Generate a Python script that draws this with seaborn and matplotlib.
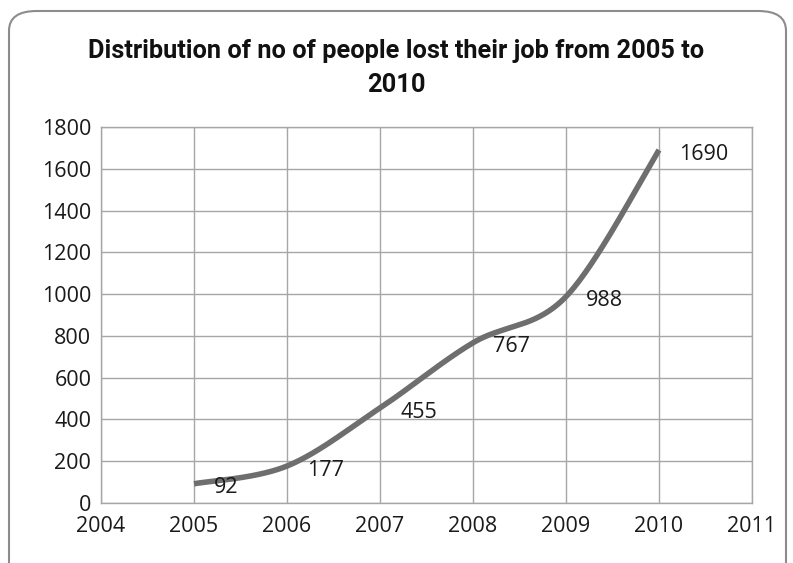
import numpy as np
import pandas as pd
import seaborn as sns
import matplotlib.pyplot as plt
from matplotlib.patches import FancyBboxPatch

# ---- data ----
years = [2005, 2006, 2007, 2008, 2009, 2010]
jobs_lost = [92, 177, 455, 767, 988, 1690]
x_ticks = [2004, 2005, 2006, 2007, 2008, 2009, 2010, 2011]
y_ticks = [0, 200, 400, 600, 800, 1000, 1200, 1400, 1600, 1800]
title = "Distribution of no of people lost their job from 2005 to\n2010"


def smooth_curve(xs, ys, n=60):
    """Excel-style smoothed line (cubic Bezier / Catmull-Rom through the points)."""
    P = np.column_stack([xs, ys]).astype(float)
    E = np.vstack([P[0], P, P[-1]])
    pts = []
    for i in range(len(P) - 1):
        p0, p1, p2, p3 = E[i], E[i + 1], E[i + 2], E[i + 3]
        c1 = p1 + (p2 - p0) / 6.0
        c2 = p2 - (p3 - p1) / 6.0
        t = np.linspace(0, 1, n, endpoint=(i == len(P) - 2))[:, None]
        b = ((1 - t) ** 3) * p1 + 3 * ((1 - t) ** 2) * t * c1 + 3 * (1 - t) * t ** 2 * c2 + t ** 3 * p2
        pts.append(b)
    pts = np.vstack(pts)
    return pd.DataFrame({"year": pts[:, 0], "value": pts[:, 1]})


sns.set_style("white")
plt.rcParams["font.family"] = ["Open Sans", "DejaVu Sans"]

fig = plt.figure(figsize=(7.93, 5.63), dpi=100)
ax = fig.add_axes([101 / 793, 1 - 503 / 563, (752 - 101) / 793, (503 - 127) / 563])

curve = smooth_curve(years, jobs_lost)
sns.lineplot(data=curve, x="year", y="value", sort=False, estimator=None,
             color="#6e6e6e", linewidth=4, ax=ax, solid_capstyle="butt")

ax.set_xlim(x_ticks[0], x_ticks[-1])
ax.set_ylim(y_ticks[0], y_ticks[-1])
ax.set_xticks(x_ticks)
ax.set_yticks(y_ticks)
ax.set_xticklabels([str(v) for v in x_ticks])
ax.set_yticklabels([str(v) for v in y_ticks])
ax.set_xlabel("")
ax.set_ylabel("")
ax.grid(True, color="#a6a6a6", linewidth=1)
ax.set_axisbelow(True)
for s in ax.spines.values():
    s.set_color("#a6a6a6")
    s.set_linewidth(1)
ax.tick_params(axis="both", length=0, labelsize=15.5, colors="#1a1a1a")
ax.tick_params(axis="x", pad=9)
ax.tick_params(axis="y", pad=7)

for x, y in zip(years, jobs_lost):
    ax.annotate(str(y), (x, y), xytext=(14.5, -3), textcoords="offset points",
                ha="left", va="center", fontsize=15.5, color="#1a1a1a")

fig.text(0.5, 1 - 39 / 563, title, ha="center", va="top", fontsize=18.3,
         fontweight="bold", family=["Roboto", "DejaVu Sans"], linespacing=1.55,
         color="#111111")

border = FancyBboxPatch((9 / 793, -0.05), (786 - 9) / 793, (552 - 0) / 563 + 0.05,
                        boxstyle="round,pad=0,rounding_size=0.035",
                        transform=fig.transFigure, fill=False,
                        edgecolor="#8c8c8c", linewidth=1.5, clip_on=False)
fig.patches.append(border)

fig.savefig("out.png", dpi=100)
